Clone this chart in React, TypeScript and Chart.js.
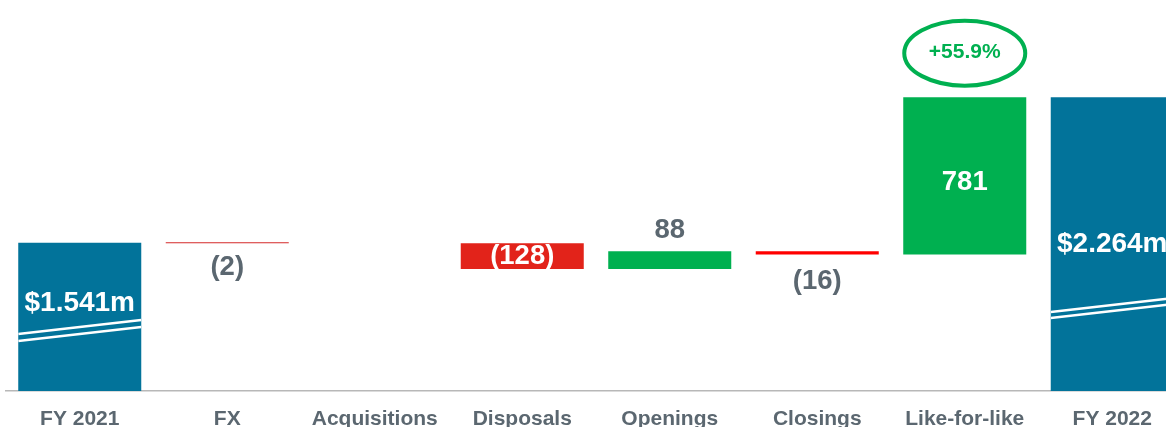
import React, { useEffect, useRef } from "react";
import { Chart, registerables } from "chart.js";

Chart.register(...registerables);

const categories = ["FY 2021", "FX", "Acquisitions", "Disposals", "Openings", "Closings", "Like-for-like", "FY 2022"];
// change per step (totals for first/last)
const stepValues = [1541, -2, 0, -128, 88, -16, 781, 2264];
const isTotal = [true, false, false, false, false, false, false, true];
const valueLabels = ["$1.541m", "(2)", "", "(128)", "88", "(16)", "781", "$2.264m"];
const growthLabel = "+55.9%";
// axis is broken: visible axis starts at this value
const axisBreakBase = 806;
const axisTop = 2746;

const TEAL = "#02739A";
const RED = "#E2231A";
const RED_BRIGHT = "#FF0000";
const GREEN = "#00B050";
const GREY_TEXT = "#5B6770";
const FONT = "'Liberation Sans', Arial, Helvetica, sans-serif";

function buildFloating() {
  const out: ([number, number] | null)[] = [];
  let running = 0;
  stepValues.forEach((v, i) => {
    if (isTotal[i]) {
      out.push([axisBreakBase, v]);
      running = v;
    } else if (v === 0) {
      out.push(null);
    } else {
      const next = running + v;
      out.push([Math.min(running, next), Math.max(running, next)]);
      running = next;
    }
  });
  return out;
}

const barColors = stepValues.map((v, i) => {
  if (isTotal[i]) return TEAL;
  if (i === 1) return "#D42A2A";
  if (i === 5) return RED_BRIGHT;
  return v < 0 ? RED : GREEN;
});

const labelPlugin = {
  id: "wfLabels",
  afterDatasetsDraw(chart: any) {
    const { ctx } = chart;
    const meta = chart.getDatasetMeta(0);
    const area = chart.chartArea;
    ctx.save();
    meta.data.forEach((bar: any, i: number) => {
      if (!bar || !valueLabels[i]) return;
      const p = bar.getProps(["x", "y", "base", "width"], true);
      const top = Math.min(p.y, p.base);
      const bottom = Math.max(p.y, p.base);
      const left = p.x - p.width / 2;
      const right = p.x + p.width / 2;

      // axis break marks on totals
      if (isTotal[i]) {
        const offs = i === 0 ? [57, 50] : [79, 73];
        ctx.save();
        ctx.beginPath();
        ctx.rect(left, top, right - left, bottom - top);
        ctx.clip();
        ctx.strokeStyle = "#ffffff";
        ctx.lineWidth = 2.4;
        const slope = 14 / 123;
        offs.forEach((o) => {
          ctx.beginPath();
          ctx.moveTo(left, area.bottom - o);
          ctx.lineTo(right, area.bottom - o - slope * (right - left));
          ctx.stroke();
        });
        ctx.restore();
      }

      let y = 0;
      let color = GREY_TEXT;
      let size = 27.5;
      if (i === 0) { y = top + 60; color = "#fff"; size = 28; }
      else if (i === 7) { y = top + 147; color = "#fff"; size = 28; }
      else if (i === 1) { y = top + 25; }
      else if (i === 3) { y = (top + bottom) / 2; color = "#fff"; }
      else if (i === 4) { y = top - 21; }
      else if (i === 5) { y = bottom + 27; }
      else if (i === 6) { y = (top + bottom) / 2 + 6.5; color = "#fff"; }
      ctx.font = `bold ${size}px ${FONT}`;
      ctx.fillStyle = color;
      ctx.textAlign = "center";
      ctx.textBaseline = "middle";
      ctx.fillText(valueLabels[i], p.x, y);

      if (i === 6) {
        const cy = top - 44;
        ctx.beginPath();
        ctx.ellipse(p.x, cy, 60.5, 32.5, 0, 0, Math.PI * 2);
        ctx.strokeStyle = GREEN;
        ctx.lineWidth = 4;
        ctx.stroke();
        ctx.font = `bold 21px ${FONT}`;
        ctx.fillStyle = GREEN;
        ctx.fillText(growthLabel, p.x, cy - 1);
      }
    });
    ctx.restore();
  },
};

export default function App() {
  const ref = useRef<HTMLCanvasElement | null>(null);
  useEffect(() => {
    if (!ref.current) return;
    const chart = new Chart(ref.current, {
      type: "bar",
      data: {
        labels: categories,
        datasets: [
          {
            data: buildFloating() as any,
            backgroundColor: barColors,
            borderWidth: 0,
            barPercentage: 1,
            categoryPercentage: 0.834,
            minBarLength: 1,
          },
        ],
      },
      options: {
        animation: false,
        responsive: true,
        maintainAspectRatio: false,
        layout: { padding: { left: 6, right: 0, top: 0, bottom: 0 } },
        plugins: { legend: { display: false }, tooltip: { enabled: false } },
        scales: {
          x: {
            grid: { display: false, drawTicks: false },
            border: { display: true, color: "#B8B8B8", width: 1.5 },
            ticks: {
              color: GREY_TEXT,
              font: { family: FONT, size: 21, weight: "bold" },
              padding: 16,
              maxRotation: 0,
              autoSkip: false,
            },
            afterFit: (scale: any) => {
              scale.height = 36;
            },
          },
          y: {
            display: false,
            min: axisBreakBase,
            max: axisTop,
          },
        },
      },
      plugins: [labelPlugin],
    });
    return () => chart.destroy();
  }, []);

  return (
    <div style={{ position: "fixed", left: 0, top: 0, width: 1166, height: 427, overflow: "hidden", background: "#fff" }}>
      <div style={{ position: "relative", width: 1186, height: 427 }}>
        <canvas ref={ref} />
      </div>
    </div>
  );
}
